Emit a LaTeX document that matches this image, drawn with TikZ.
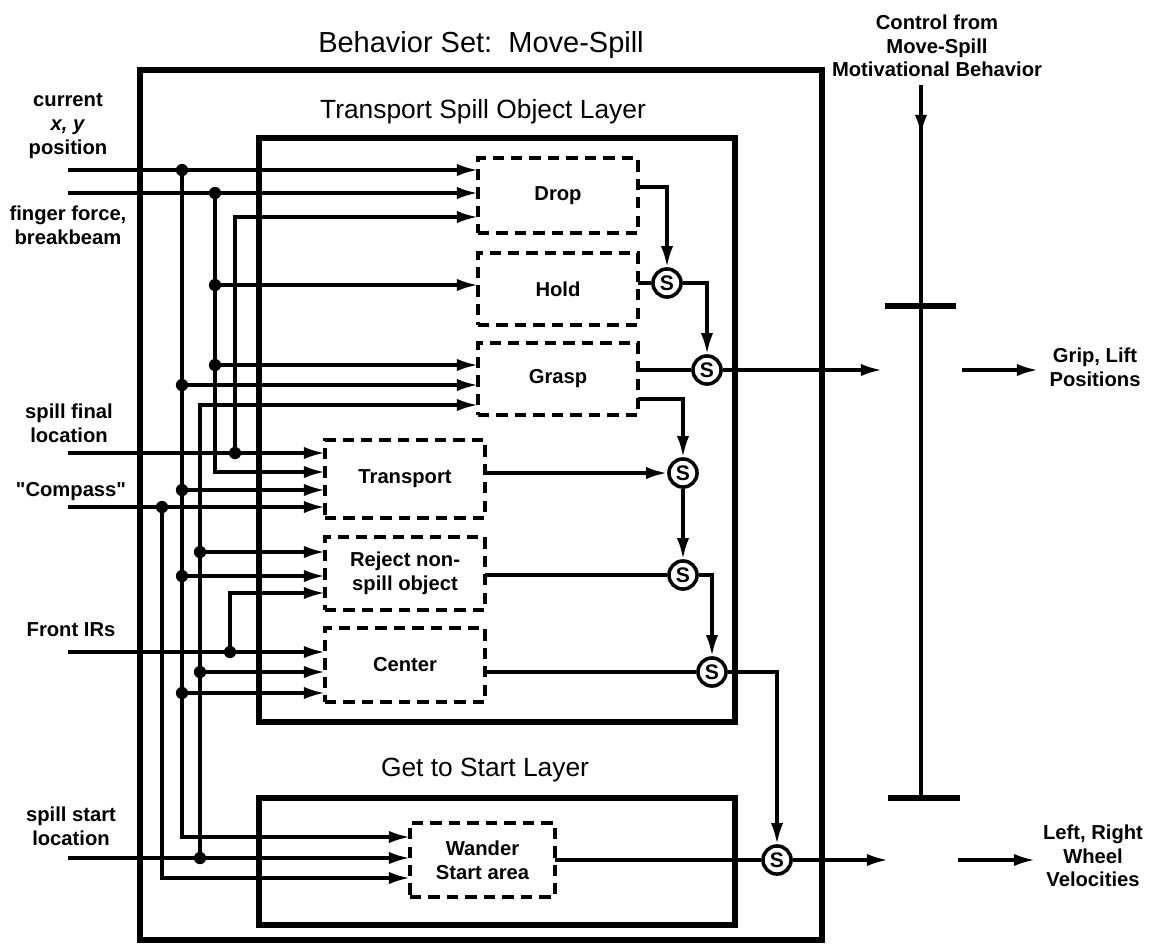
\documentclass[tikz,border=0pt]{standalone}
\usepackage{fontspec}
\setmainfont{Liberation Sans}[Ligatures=TeXOff]
\usetikzlibrary{arrows.meta}
\begin{document}
\begin{tikzpicture}[x=0.02cm,y=-0.02cm,
  conn/.style={line width=1.9pt},
  arr/.style={conn,-{Latex[length=12pt,width=7pt]}},
  jdot/.style={circle,fill=black,inner sep=0pt,minimum size=7pt},
  behav/.style={draw,line width=1.8pt,dash pattern=on 6.5pt off 4pt,inner sep=0pt,outer sep=0pt,minimum width=3.2cm,font=\bfseries\fontsize{11.5}{13.5}\selectfont,align=center},
  layer/.style={draw,line width=3pt,inner sep=0pt,outer sep=0pt},
  sw/.style={circle,draw,line width=2pt,inner sep=0pt,minimum size=16pt,fill=white,font=\bfseries\fontsize{12}{12}\selectfont},
  lbl/.style={font=\bfseries\fontsize{11.5}{13.5}\selectfont,align=center,inner sep=0pt},
  ttl/.style={font=\fontsize{15}{18}\selectfont,inner sep=0pt},
  bar/.style={line width=2.7pt},
  tick/.style={line width=3pt}]
\useasboundingbox (0,0) rectangle (1155,944);

% layer boxes
\node[layer,minimum width=13.64cm,minimum height=17.4cm] (outer) at (481,505) {};
\node[layer,minimum width=9.52cm,minimum height=11.68cm] (tlayer) at (497,430) {};
\node[layer,minimum width=9.52cm,minimum height=2.54cm] (glayer) at (497,861.5) {};

% titles
\node[ttl,font=\fontsize{16.5}{18}\selectfont] (tbs) at (481,45) {Behavior Set:\ \ Move-Spill};
\node[ttl] (tts) at (483,112) {Transport Spill Object Layer};
\node[ttl] (tgs) at (485,770) {Get to Start Layer};

% behaviors
\node[behav,minimum height=1.5cm] (drop) at (558,195.5) {Drop};
\node[behav,minimum height=1.44cm] (hold) at (558,289) {Hold};
\node[behav,minimum height=1.44cm] (grasp) at (558,379) {Grasp};
\node[behav,minimum height=1.56cm] (transport) at (405,479) {Transport};
\node[behav,minimum height=1.46cm] (reject) at (405,573.5) {Reject non-\\spill object};
\node[behav,minimum height=1.48cm] (center) at (405,665) {Center};
\node[behav,minimum width=2.9cm,minimum height=1.48cm] (wander) at (482.5,860) {Wander\\Start area};

% input labels
\node[lbl] (lcur) at (68,126) {current\\\textit{x, y}\\position};
\node[lbl] (lfing) at (68,225) {finger force,\\breakbeam};
\node[lbl] (lfinal) at (69,423) {spill final\\location};
\node[lbl] (lcomp) at (71,492) {"Compass"};
\node[lbl] (lfront) at (71,630) {Front IRs};
\node[lbl] (lstart) at (71,826) {spill start\\location};

% input line starts
\coordinate (incur) at (68,170);
\coordinate (infing) at (68,193);
\coordinate (infinal) at (68,453);
\coordinate (incomp) at (68,507);
\coordinate (infront) at (68,652);
\coordinate (instart) at (68,858);

% junctions
\coordinate (jA) at (182,170);
\coordinate (jB) at (215,193);
\coordinate (jC) at (235,453);
\coordinate (jD) at (162,507);
\coordinate (jE) at (230,652);
\coordinate (jF) at (200,858);

% main input lines
\draw[arr] (incur) -- (drop.west |- incur);
\draw[arr] (infing) -- (drop.west |- infing);
\draw[arr] (infinal) -- (transport.west |- infinal);
\draw[arr] (incomp) -- (transport.west |- incomp);
\draw[arr] (infront) -- (center.west |- infront);
\draw[arr] (instart) -- (wander.west |- instart);

% bus: current position
\draw[arr] (jA) -- (182,837) -- (wander.west |- 0,837);
\draw[arr] (182,385) -- (grasp.west |- 0,385);
\draw[arr] (182,490) -- (transport.west |- 0,490);
\draw[arr] (182,576) -- (reject.west |- 0,576);
\draw[arr] (182,693) -- (center.west |- 0,693);
% bus: finger force
\draw[arr] (jB) -- (215,472) -- (transport.west |- 0,472);
\draw[arr] (215,285) -- (hold.west |- 0,285);
\draw[arr] (215,365) -- (grasp.west |- 0,365);
% bus: spill final
\draw[arr] (jC) -- (235,217) -- (drop.west |- 0,217);
% bus: spill start
\draw[arr] (jF) -- (200,405) -- (grasp.west |- 0,405);
\draw[arr] (200,552) -- (reject.west |- 0,552);
\draw[arr] (200,672) -- (center.west |- 0,672);
% bus: compass
\draw[arr] (jD) -- (162,878) -- (wander.west |- 0,878);
% bus: front IRs
\draw[arr] (jE) -- (230,593) -- (reject.west |- 0,593);

% dots
\foreach \p [count=\i] in {(jA),(jB),(jC),(jD),(jE),(jF),(182,385),(182,490),(182,576),(182,693),(215,285),(215,365),(200,552),(200,672)}
  \node[jdot] (dot\i) at \p {};

% suppressors
\node[sw] (s1) at (667,283) {S};
\node[sw] (s2) at (707,370) {S};
\node[sw] (s3) at (683,473) {S};
\node[sw] (s4) at (683,575) {S};
\node[sw] (s5) at (712,672) {S};
\node[sw] (s6) at (777,860) {S};

\draw[arr] (drop.east |- 0,187) -| (s1.north);
\draw[conn] (hold.east |- s1) -- (s1.west);
\draw[arr] (s1.east) -| (s2.north);
\draw[conn] (grasp.east |- s2) -- (s2.west);
\draw[arr] (grasp.east |- 0,399) -| (s3.north);
\draw[arr] (transport.east |- s3) -- (s3.west);
\draw[arr] (s3.south) -- (s4.north);
\draw[conn] (reject.east |- s4) -- (s4.west);
\draw[arr] (s4.east) -| (s5.north);
\draw[conn] (center.east |- s5) -- (s5.west);
\draw[arr] (s5.east) -| (s6.north);
\draw[conn] (wander.east |- s6) -- (s6.west);

% outputs
\coordinate (gripend) at (882,370);
\coordinate (wheelend) at (888,860);
\draw[arr] (s2.east) -- (gripend);
\draw[arr] (s6.east) -- (wheelend);
\coordinate (grip2a) at (962,370);
\coordinate (grip2b) at (1038,370);
\coordinate (wheel2a) at (958,860);
\coordinate (wheel2b) at (1035,860);
\draw[arr] (grip2a) -- (grip2b);
\draw[arr] (wheel2a) -- (wheel2b);
\node[lbl] (lgrip) at (1095,367) {Grip, Lift\\Positions};
\node[lbl] (lwheel) at (1093,856) {Left, Right\\Wheel\\Velocities};

% control bar
\node[lbl] (lctrl) at (937,46) {Control from\\Move-Spill\\Motivational Behavior};
\coordinate (ctop) at (921,85);
\coordinate (cbot) at (921,798);
\coordinate (carr) at (921,136);
\draw[bar] (ctop) -- (cbot);
\draw[arr,line width=2.7pt] (ctop) -- (carr);
\coordinate (t1a) at (885,306);
\coordinate (t1b) at (956,306);
\coordinate (t2a) at (888,798);
\coordinate (t2b) at (960,798);
\draw[tick] (t1a) -- (t1b);
\draw[tick] (t2a) -- (t2b);
\end{tikzpicture}
\end{document}
